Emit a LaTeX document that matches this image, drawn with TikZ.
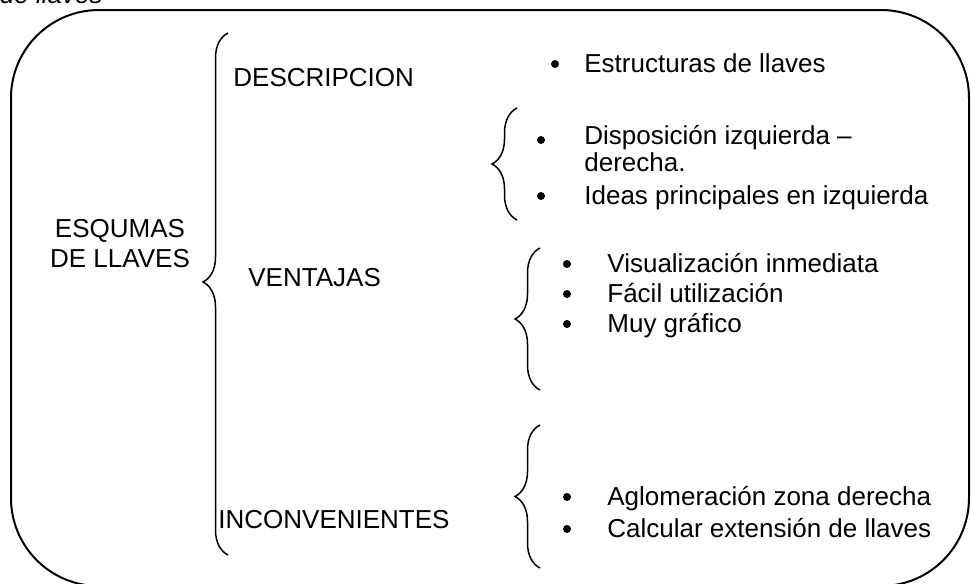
\documentclass[tikz,border=0pt]{standalone}
\usepackage{fontspec}
\setmainfont{Liberation Sans}
\usetikzlibrary{decorations.pathreplacing}

\begin{document}
\begin{tikzpicture}
    [x=0.5pt,y=-0.5pt,
    texto/.style={anchor=base west,inner sep=0pt,align=left,
    font=\fontsize{13}{11.5}\selectfont},
    vineta/.style={circle,fill=black,inner sep=0pt,minimum size=4pt},
    llave/.style={draw,line width=0.75pt,decorate,
    decoration={brace,amplitude=12.5pt,aspect=#1}}]
    \clip (0,0) rectangle (971,584);
    \node (titulo) [anchor=base east,inner sep=0pt,font=\fontsize{13}{15}\itshape] at (103,3) {de llaves};
    \draw[line width=1pt,rounded corners=44pt] (11,10) rectangle (969,586);
    % llave principal
    \node (esquemas) [anchor=base,inner sep=0pt,align=center,
    font=\fontsize{13}{15}\selectfont] at (120,267) {ESQUMAS\\DE LLAVES};
    \draw[llave=0.523] (228,555) -- (228,33);
    \node (descripcion) [texto] at (233,86) {DESCRIPCION};
    \node (ventajas) [texto] at (248,286) {VENTAJAS};
    \node (inconvenientes) [texto] at (218,528) {INCONVENIENTES};
    % descripcion
    \node (v estructuras) [vineta] at (555,64) {};
    \node (estructuras) [texto] at (584,72) {Estructuras de llaves};
    \draw[llave=0.5] (517,220) -- (517,108);
    \node (v disposicion) [vineta] at (541,140) {};
    \node (disposicion) [texto] at (584,171) {Disposición izquierda –\\derecha.};
    \node (v ideas) [vineta] at (541,196) {};
    \node (ideas) [texto] at (584,204) {Ideas principales en izquierda};
    % ventajas
    \draw[llave=0.5] (540,390) -- (540,248);
    \node (v visualizacion) [vineta] at (567,264) {};
    \node (visualizacion) [texto] at (607,272) {Visualización inmediata};
    \node (v facil) [vineta] at (567,294) {};
    \node (facil) [texto] at (607,302) {Fácil utilización};
    \node (v grafico) [vineta] at (567,324) {};
    \node (grafico) [texto] at (607,332) {Muy gráfico};
    % inconvenientes
    \draw[llave=0.5] (540,568) -- (540,425);
    \node (v aglomeracion) [vineta] at (567,497) {};
    \node (aglomeracion) [texto] at (607,505) {Aglomeración zona derecha};
    \node (v calcular) [vineta] at (567,529) {};
    \node (calcular) [texto] at (607,537) {Calcular extensión de llaves};
\end{tikzpicture}
\end{document}
